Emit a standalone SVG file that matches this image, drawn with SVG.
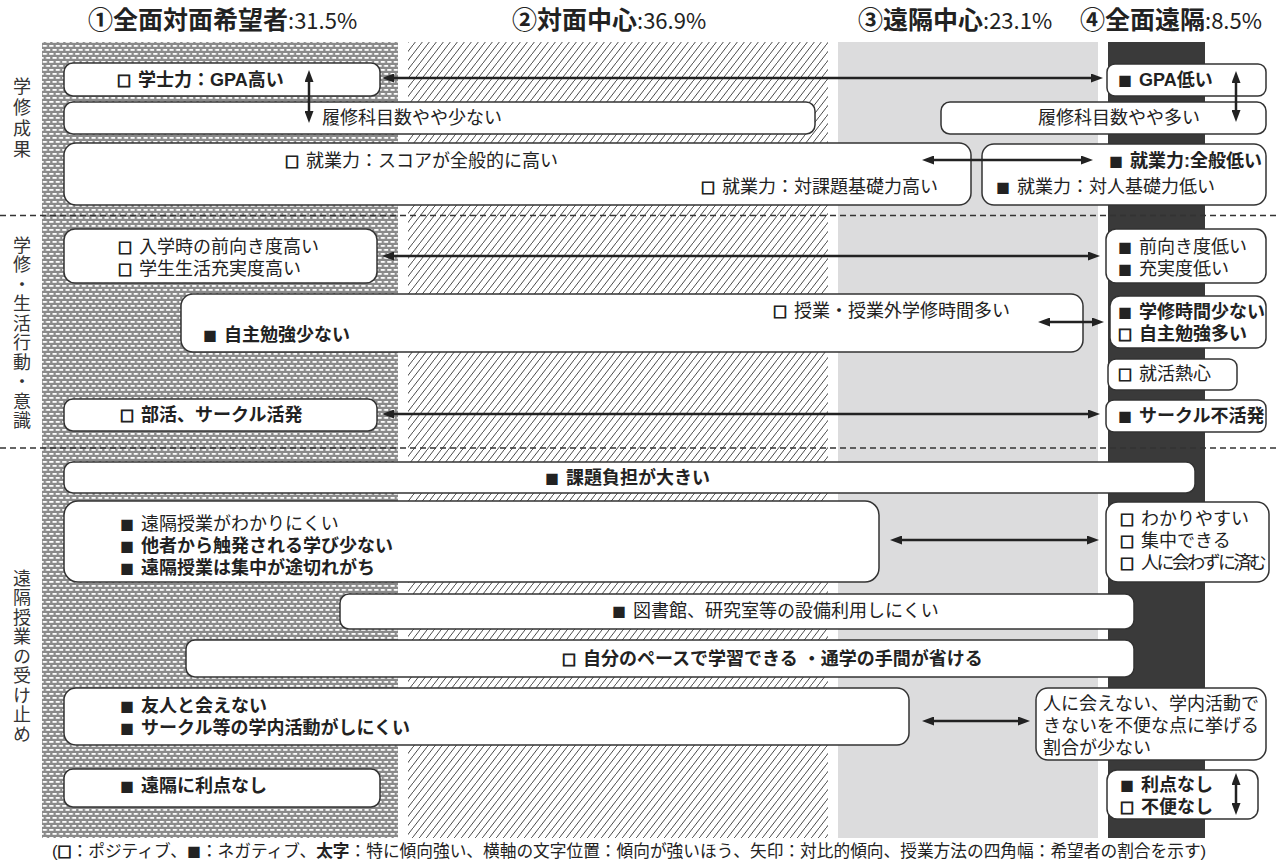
<svg xmlns="http://www.w3.org/2000/svg" width="1276" height="861" viewBox="0 0 1276 861">
<style>
.box{fill:#fff;stroke:#333;stroke-width:1.5}
.t{font-family:"Liberation Sans","Noto Sans CJK JP",sans-serif;font-size:18px;fill:#222}
.b{font-weight:700}
.sq{font-size:14px;font-family:"Noto Sans CJK JP",sans-serif}
.sqo{stroke:#222;stroke-width:1.1}
.hd{font-family:"Noto Sans CJK JP","Noto Sans",sans-serif;font-size:25px;fill:#222;font-weight:700}
.pc{font-weight:400;font-size:22px}
.lbl{font-family:"Liberation Sans","Noto Sans CJK JP",sans-serif;font-size:18px;fill:#333;writing-mode:vertical-rl}
.cap{font-family:"Liberation Sans","Noto Sans CJK JP",sans-serif;font-size:16.7px;fill:#222}
.dash{stroke:#333;stroke-width:1.5;stroke-dasharray:6 4;fill:none}
.arr{stroke:#222;stroke-width:2.5;fill:none;marker-start:url(#ah);marker-end:url(#ah)}
</style>
<defs>
<pattern id="dots" width="6.5" height="8" patternUnits="userSpaceOnUse">
<rect width="6.5" height="8" fill="#8a8a8a"/>
<rect x="0.5" y="1" width="4.2" height="1.8" fill="#fff"/>
<rect x="3.75" y="5" width="4.2" height="1.8" fill="#fff"/>
<rect x="-2.75" y="5" width="4.2" height="1.8" fill="#fff"/>
</pattern>
<pattern id="hatch" width="7" height="9" patternUnits="userSpaceOnUse">
<rect width="7" height="9" fill="#fff"/>
<path d="M-1,10.3 L8,-1.3" stroke="#2a2a2a" stroke-width="0.85"/>
</pattern>
<marker id="ah" markerUnits="userSpaceOnUse" markerWidth="12" markerHeight="9" viewBox="0 0 12 9" refX="2" refY="4.5" orient="auto-start-reverse">
<path d="M0,0 L12,4.5 L0,9 Z" fill="#222"/>
</marker>
</defs>
<rect width="1276" height="861" fill="#fff"/>
<g id="columns">
<rect x="42" y="42" width="356" height="796" fill="url(#dots)"/>
<rect x="408" y="42" width="420" height="796" fill="url(#hatch)"/>
<rect x="838" y="42" width="260" height="796" fill="#dcdcdd"/>
<rect x="1108" y="42" width="97" height="796" fill="#3a3a3a"/>
</g>
<g id="headers">
<text class="hd" x="88" y="29">①全面対面希望者<tspan class="pc">:31.5%</tspan></text>
<text class="hd" x="512" y="29">②対面中心<tspan class="pc">:36.9%</tspan></text>
<text class="hd" x="858" y="29">③遠隔中心<tspan class="pc">:23.1%</tspan></text>
<text class="hd" x="1080" y="29">④全面遠隔<tspan class="pc">:8.5%</tspan></text>
</g>
<g id="dividers">
<line class="dash" x1="0" y1="215.5" x2="1276" y2="215.5"/>
<line class="dash" x1="0" y1="448" x2="1276" y2="448"/>
</g>
<g id="row-labels">
<text class="lbl" x="20" y="77" letter-spacing="3">学修成果</text>
<text class="lbl" x="20" y="236" letter-spacing="1.5">学修・生活行動・意識</text>
<text class="lbl" x="20" y="569" letter-spacing="1.5">遠隔授業の受け止め</text>
</g>
<g id="nodes">
<g id="n-gpa-high"><rect class="box" x="64" y="63" width="316" height="33" rx="9"/><text class="t b" x="117" y="86"><tspan class="sq sqo">□</tspan><tspan dx="7">学士力：GPA高い</tspan></text></g>
<g id="n-gpa-low"><rect class="box" x="1107" y="64" width="159" height="32" rx="8"/><text class="t b" x="1118" y="86"><tspan class="sq">■</tspan><tspan dx="7">GPA低い</tspan></text></g>
<g id="n-credits-few"><rect class="box" x="64" y="102" width="751" height="32" rx="9"/><text class="t" x="322" y="124">履修科目数やや少ない</text></g>
<g id="n-credits-many"><rect class="box" x="941" y="102" width="325" height="32" rx="9"/><text class="t" x="1038" y="124">履修科目数やや多い</text></g>
<g id="n-employ-high"><rect class="box" x="64" y="143" width="907" height="62" rx="12"/><text class="t" x="285" y="167"><tspan class="sq sqo">□</tspan><tspan dx="7">就業力：スコアが全般的に高い</tspan></text><text class="t" x="701" y="193"><tspan class="sq sqo">□</tspan><tspan dx="7">就業力：対課題基礎力高い</tspan></text></g>
<g id="n-employ-low"><rect class="box" x="982" y="144" width="284" height="61" rx="12"/><text class="t b" x="1109" y="167"><tspan class="sq">■</tspan><tspan dx="7">就業力:全般低い</tspan></text><text class="t" x="996" y="193"><tspan class="sq">■</tspan><tspan dx="7">就業力：対人基礎力低い</tspan></text></g>
<g id="n-motiv-high"><rect class="box" x="64" y="229" width="313" height="54" rx="11"/><text class="t" x="118" y="253"><tspan class="sq sqo">□</tspan><tspan dx="7">入学時の前向き度高い</tspan></text><text class="t" x="118" y="275"><tspan class="sq sqo">□</tspan><tspan dx="7">学生生活充実度高い</tspan></text></g>
<g id="n-motiv-low"><rect class="box" x="1106" y="229" width="160" height="54" rx="10"/><text class="t" x="1118" y="253"><tspan class="sq">■</tspan><tspan dx="7">前向き度低い</tspan></text><text class="t" x="1118" y="275"><tspan class="sq">■</tspan><tspan dx="7">充実度低い</tspan></text></g>
<g id="n-study-time"><rect class="box" x="181" y="294" width="902" height="58" rx="12"/><text class="t" x="773" y="317"><tspan class="sq sqo">□</tspan><tspan dx="7">授業・授業外学修時間多い</tspan></text><text class="t b" x="203" y="341"><tspan class="sq">■</tspan><tspan dx="7">自主勉強少ない</tspan></text></g>
<g id="n-study-low"><rect class="box" x="1110" y="296" width="156" height="52" rx="10"/><text class="t b" x="1118" y="318"><tspan class="sq">■</tspan><tspan dx="7">学修時間少ない</tspan></text><text class="t b" x="1118" y="340"><tspan class="sq sqo">□</tspan><tspan dx="7">自主勉強多い</tspan></text></g>
<g id="n-job"><rect class="box" x="1108" y="359" width="129" height="31" rx="8"/><text class="t" x="1118" y="380"><tspan class="sq sqo">□</tspan><tspan dx="7">就活熱心</tspan></text></g>
<g id="n-club-active"><rect class="box" x="64" y="399" width="313" height="32" rx="9"/><text class="t b" x="120" y="421"><tspan class="sq sqo">□</tspan><tspan dx="7">部活、サークル活発</tspan></text></g>
<g id="n-club-inactive"><rect class="box" x="1106" y="400" width="160" height="32" rx="8"/><text class="t b" x="1118" y="422"><tspan class="sq">■</tspan><tspan dx="7">サークル不活発</tspan></text></g>
<g id="n-burden"><rect class="box" x="64" y="462" width="1131" height="31" rx="9"/><text class="t b" x="545" y="484"><tspan class="sq">■</tspan><tspan dx="7">課題負担が大きい</tspan></text></g>
<g id="n-remote-hard"><rect class="box" x="64" y="501" width="815" height="81" rx="14"/><text class="t" x="120" y="530"><tspan class="sq">■</tspan><tspan dx="7">遠隔授業がわかりにくい</tspan></text><text class="t b" x="120" y="552"><tspan class="sq">■</tspan><tspan dx="7">他者から触発される学び少ない</tspan></text><text class="t b" x="120" y="574"><tspan class="sq">■</tspan><tspan dx="7">遠隔授業は集中が途切れがち</tspan></text></g>
<g id="n-remote-easy"><rect class="box" x="1106" y="502" width="163" height="80" rx="12"/><text class="t" x="1120" y="525"><tspan class="sq sqo">□</tspan><tspan dx="7">わかりやすい</tspan></text><text class="t" x="1120" y="547"><tspan class="sq sqo">□</tspan><tspan dx="7">集中できる</tspan></text><text class="t" x="1120" y="569"><tspan class="sq sqo">□</tspan><tspan dx="7" letter-spacing="-2.6">人に会わずに済む</tspan></text></g>
<g id="n-facility"><rect class="box" x="340" y="594" width="794" height="35" rx="9"/><text class="t" x="612" y="617"><tspan class="sq">■</tspan><tspan dx="7">図書館、研究室等の設備利用しにくい</tspan></text></g>
<g id="n-own-pace"><rect class="box" x="186" y="640" width="948" height="37" rx="9"/><text class="t b" x="562" y="665"><tspan class="sq sqo">□</tspan><tspan dx="7">自分のペースで学習できる ・通学の手間が省ける</tspan></text></g>
<g id="n-friends"><rect class="box" x="64" y="688" width="845" height="57" rx="12"/><text class="t b" x="120" y="712"><tspan class="sq">■</tspan><tspan dx="7">友人と会えない</tspan></text><text class="t b" x="120" y="734"><tspan class="sq">■</tspan><tspan dx="7">サークル等の学内活動がしにくい</tspan></text></g>
<g id="n-few-inconv"><rect class="box" x="1036" y="688" width="230" height="72" rx="12"/><text class="t" x="1043" y="710">人に会えない、学内活動で</text><text class="t" x="1043" y="732">きないを不便な点に挙げる</text><text class="t" x="1043" y="754">割合が少ない</text></g>
<g id="n-no-merit"><rect class="box" x="64" y="769" width="316" height="38" rx="9"/><text class="t b" x="120" y="792"><tspan class="sq">■</tspan><tspan dx="7">遠隔に利点なし</tspan></text></g>
<g id="n-merit-none"><rect class="box" x="1107" y="770" width="151" height="49" rx="10"/><text class="t b" x="1120" y="791"><tspan class="sq">■</tspan><tspan dx="7">利点なし</tspan></text><text class="t b" x="1120" y="813"><tspan class="sq sqo">□</tspan><tspan dx="7">不便なし</tspan></text></g>
</g>
<g id="connectors">
<line class="arr" x1="392" y1="78" x2="1093" y2="78"/>
<line class="arr" x1="309" y1="80" x2="309" y2="113"/>
<line class="arr" x1="1236" y1="81" x2="1236" y2="112"/>
<line class="arr" x1="932" y1="160" x2="1083" y2="160"/>
<line class="arr" x1="392" y1="256" x2="1090" y2="256"/>
<line class="arr" x1="1048" y1="322" x2="1094" y2="322"/>
<line class="arr" x1="392" y1="414" x2="1090" y2="414"/>
<line class="arr" x1="900" y1="540" x2="1089" y2="540"/>
<line class="arr" x1="932" y1="721" x2="1020" y2="721"/>
<line class="arr" x1="1236" y1="783" x2="1236" y2="805"/>
</g>
<text class="cap" x="52" y="857">(<tspan class="sq sqo" font-size="15">□</tspan>：ポジティブ、<tspan class="sq" font-size="15">■</tspan>：ネガティブ、<tspan font-weight="700">太字</tspan>：特に傾向強い、横軸の文字位置：傾向が強いほう、矢印：対比的傾向、授業方法の四角幅：希望者の割合を示す)</text>
</svg>
